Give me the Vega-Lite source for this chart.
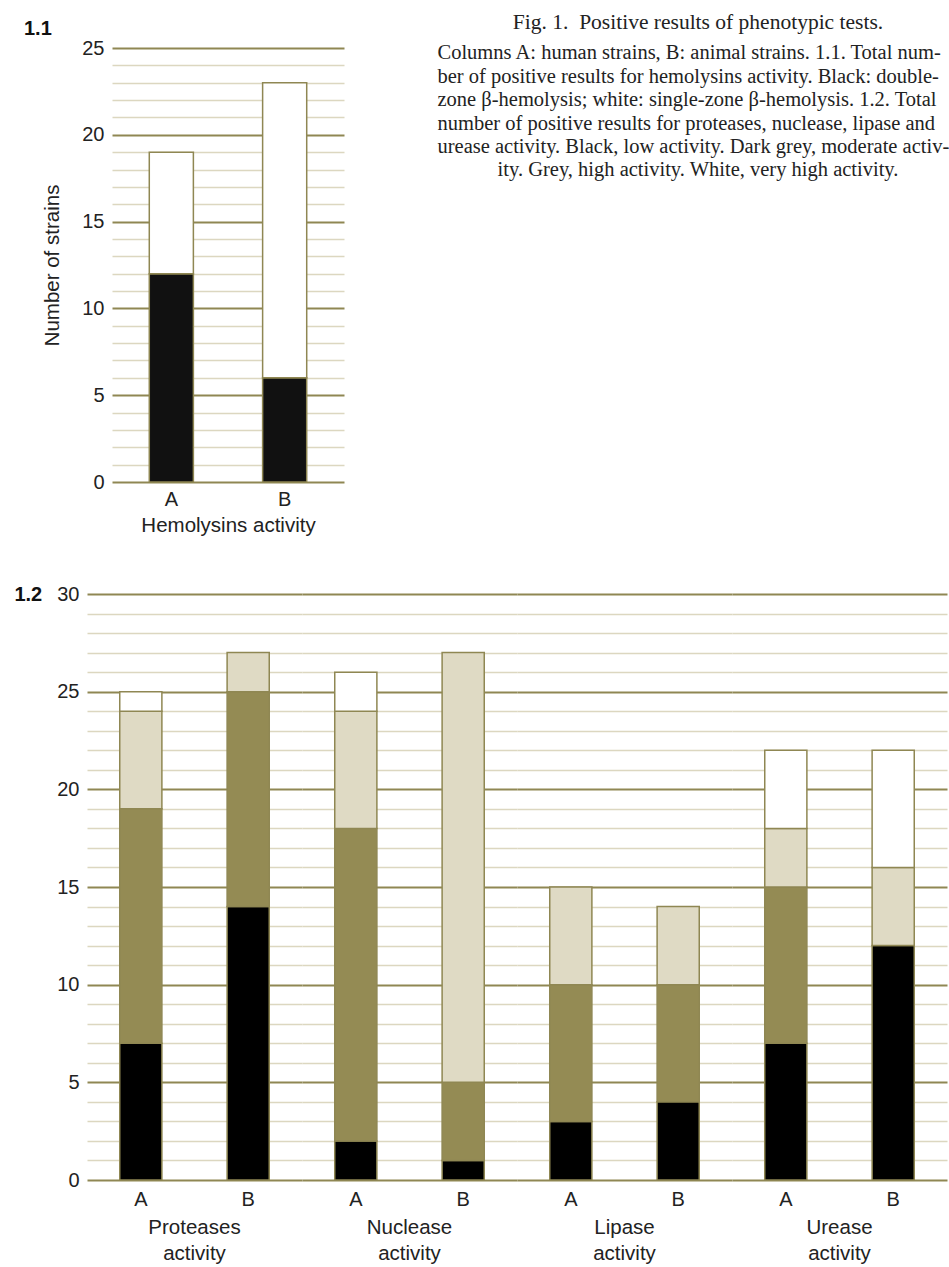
{
  "$schema": "https://vega.github.io/schema/vega-lite/v6.json",
  "background": "white",
  "padding": {"left": 13, "top": 12, "right": 0, "bottom": 0},
  "spacing": 48,
  "resolve": {"scale": {"color": "independent"}},
  "config": {
    "view": {"stroke": null},
    "font": "Liberation Sans",
    "axis": {
      "labelFont": "Liberation Sans",
      "titleFont": "Liberation Sans",
      "labelColor": "#222222",
      "titleColor": "#222222",
      "titleFontWeight": "normal",
      "ticks": false,
      "tickSize": 0,
      "domain": false,
      "labelFontSize": 20,
      "titleFontSize": 20.5
    },
    "title": {"font": "Liberation Sans", "color": "#111111"}
  },
  "vconcat": [
    {
      "spacing": 93,
      "hconcat": [
        {
          "spacing": 0,
          "hconcat": [
            {
              "width": 25,
              "height": 434,
              "title": {"text": "1.1", "anchor": "start", "frame": "group", "dx": -63, "fontSize": 20, "fontWeight": "bold", "offset": -1},
              "data": {
                "values": [
                  {"strain": "A", "zone": "Double-zone β-hemolysis", "n": 12, "order": 1},
                  {"strain": "A", "zone": "Single-zone β-hemolysis", "n": 7, "order": 2},
                  {"strain": "B", "zone": "Double-zone β-hemolysis", "n": 6, "order": 1},
                  {"strain": "B", "zone": "Single-zone β-hemolysis", "n": 17, "order": 2}
                ]
              },
              "mark": {"type": "bar", "opacity": 0},
              "encoding": {
                "y": {
                  "field": "n", "type": "quantitative", "stack": null,
                  "scale": {"domain": [0, 25], "nice": false},
                  "axis": {
                    "title": "Number of strains",
                    "offset": -25,
                    "values": [0,1,2,3,4,5,6,7,8,9,10,11,12,13,14,15,16,17,18,19,20,21,22,23,24,25],
                    "labelExpr": "datum.value % 5 === 0 ? datum.label : ''",
                    "labelOverlap": false,
                    "labelPadding": 8,
                    "titlePadding": 19,
                    "grid": false
                  }
                }
              }
            },
            {
              "width": 232,
              "height": 434,
              "data": {
                "values": [
                  {"strain": "A", "zone": "Double-zone β-hemolysis", "n": 12, "order": 1},
                  {"strain": "A", "zone": "Single-zone β-hemolysis", "n": 7, "order": 2},
                  {"strain": "B", "zone": "Double-zone β-hemolysis", "n": 6, "order": 1},
                  {"strain": "B", "zone": "Single-zone β-hemolysis", "n": 17, "order": 2}
                ]
              },
              "mark": {"type": "bar", "stroke": "#8f8753", "strokeWidth": 1.5},
              "encoding": {
                "x": {
                  "field": "strain", "type": "nominal",
                  "scale": {"paddingInner": 0.611, "paddingOuter": 0.329},
                  "axis": {"title": "Hemolysins activity", "labelAngle": 0, "labelPadding": 7, "titlePadding": 6, "grid": false}
                },
                "y": {
                  "field": "n", "type": "quantitative", "stack": "zero",
                  "scale": {"domain": [0, 25], "nice": false},
                  "axis": {
                    "title": null,
                    "labels": false,
                    "values": [0,1,2,3,4,5,6,7,8,9,10,11,12,13,14,15,16,17,18,19,20,21,22,23,24,25],
                    "grid": true,
                    "gridColor": {"condition": {"test": "datum.value % 5 === 0", "value": "#8f8753"}, "value": "#dcd7c0"},
                    "gridWidth": {"condition": {"test": "datum.value % 5 === 0", "value": 2}, "value": 1.6}
                  }
                },
                "color": {
                  "field": "zone", "type": "nominal",
                  "scale": {"domain": ["Double-zone β-hemolysis", "Single-zone β-hemolysis"], "range": ["#111111", "#ffffff"]},
                  "legend": null
                },
                "order": {"field": "order", "type": "quantitative"}
              }
            }
          ]
        },
        {
          "width": 522,
          "height": 127,
          "title": {"text": "Fig. 1.\u00a0 Positive results of phenotypic tests.", "anchor": "middle", "font": "Liberation Serif", "fontSize": 21.5, "fontWeight": "normal", "color": "#222222", "offset": 9},
          "data": {
            "values": [
              {"line": 1, "text": "Columns A: human strains, B: animal strains. 1.1. Total num-"},
              {"line": 2, "text": "ber of positive results for hemolysins activity. Black: double-"},
              {"line": 3, "text": "zone β-hemolysis; white: single-zone β-hemolysis. 1.2. Total"},
              {"line": 4, "text": "number of positive results for proteases, nuclease, lipase and"},
              {"line": 5, "text": "urease activity. Black, low activity. Dark grey, moderate activ-"},
              {"line": 6, "text": "ity. Grey, high activity. White, very high activity."}
            ]
          },
          "mark": {"type": "text", "font": "Liberation Serif", "fontSize": 20.5, "color": "#222222"},
          "encoding": {
            "y": {
              "field": "text", "type": "nominal",
              "sort": {"field": "line", "op": "min"},
              "scale": {"type": "point", "padding": 0.2},
              "axis": {
                "title": null,
                "labelAlign": "left",
                "labelPadding": 0,
                "labelLimit": 1000,
                "labelFont": "Liberation Serif",
                "labelFontSize": 20.5,
                "labelColor": "#222222",
                "labelOverlap": false,
                "grid": false,
                "labelExpr": "indexof(datum.value, 'ity. Grey') === 0 ? '' : datum.label"
              }
            },
            "text": {"condition": {"test": "datum.line === 6", "field": "text"}, "value": ""}
          }
        }
      ]
    },
    {
      "data": {
        "values": [
          {"test": "Proteases activity", "strain": "A", "level": "Low", "n": 7, "order": 1},
          {"test": "Proteases activity", "strain": "A", "level": "Moderate", "n": 12, "order": 2},
          {"test": "Proteases activity", "strain": "A", "level": "High", "n": 5, "order": 3},
          {"test": "Proteases activity", "strain": "A", "level": "Very high", "n": 1, "order": 4},
          {"test": "Proteases activity", "strain": "B", "level": "Low", "n": 14, "order": 1},
          {"test": "Proteases activity", "strain": "B", "level": "Moderate", "n": 11, "order": 2},
          {"test": "Proteases activity", "strain": "B", "level": "High", "n": 2, "order": 3},
          {"test": "Nuclease activity", "strain": "A", "level": "Low", "n": 2, "order": 1},
          {"test": "Nuclease activity", "strain": "A", "level": "Moderate", "n": 16, "order": 2},
          {"test": "Nuclease activity", "strain": "A", "level": "High", "n": 6, "order": 3},
          {"test": "Nuclease activity", "strain": "A", "level": "Very high", "n": 2, "order": 4},
          {"test": "Nuclease activity", "strain": "B", "level": "Low", "n": 1, "order": 1},
          {"test": "Nuclease activity", "strain": "B", "level": "Moderate", "n": 4, "order": 2},
          {"test": "Nuclease activity", "strain": "B", "level": "High", "n": 22, "order": 3},
          {"test": "Lipase activity", "strain": "A", "level": "Low", "n": 3, "order": 1},
          {"test": "Lipase activity", "strain": "A", "level": "Moderate", "n": 7, "order": 2},
          {"test": "Lipase activity", "strain": "A", "level": "High", "n": 5, "order": 3},
          {"test": "Lipase activity", "strain": "B", "level": "Low", "n": 4, "order": 1},
          {"test": "Lipase activity", "strain": "B", "level": "Moderate", "n": 6, "order": 2},
          {"test": "Lipase activity", "strain": "B", "level": "High", "n": 4, "order": 3},
          {"test": "Urease activity", "strain": "A", "level": "Low", "n": 7, "order": 1},
          {"test": "Urease activity", "strain": "A", "level": "Moderate", "n": 8, "order": 2},
          {"test": "Urease activity", "strain": "A", "level": "High", "n": 3, "order": 3},
          {"test": "Urease activity", "strain": "A", "level": "Very high", "n": 4, "order": 4},
          {"test": "Urease activity", "strain": "B", "level": "Low", "n": 12, "order": 1},
          {"test": "Urease activity", "strain": "B", "level": "High", "n": 4, "order": 3},
          {"test": "Urease activity", "strain": "B", "level": "Very high", "n": 6, "order": 4}
        ]
      },
      "spacing": 0,
      "facet": {
        "column": {
          "field": "test", "type": "nominal",
          "sort": ["Proteases activity", "Nuclease activity", "Lipase activity", "Urease activity"],
          "title": null,
          "header": {
            "title": null,
            "labelOrient": "bottom",
            "labelExpr": "split(datum.label, ' ')",
            "labelFont": "Liberation Sans",
            "labelFontSize": 20.5,
            "labelColor": "#222222",
            "labelPadding": 9,
            "labelLineHeight": 26,
            "labelBaseline": "top"
          }
        }
      },
      "spec": {
        "width": 215,
        "height": 586,
        "mark": {"type": "bar", "stroke": "#8f8753", "strokeWidth": 1.5},
        "encoding": {
          "x": {
            "field": "strain", "type": "nominal",
            "scale": {"paddingInner": 0.6075, "paddingOuter": 0.305},
            "axis": {"title": null, "labelAngle": 0, "labelPadding": 8, "grid": false}
          },
          "y": {
            "field": "n", "type": "quantitative", "stack": "zero",
            "scale": {"domain": [0, 30], "nice": false},
            "axis": {
              "title": "1.2",
              "titleAngle": 0,
              "titleAnchor": "end",
              "titleAlign": "right",
              "titleBaseline": "middle",
              "titleFontWeight": "bold",
              "titleFontSize": 20,
              "titleColor": "#111111",
              "titlePadding": 15,
              "values": [0,1,2,3,4,5,6,7,8,9,10,11,12,13,14,15,16,17,18,19,20,21,22,23,24,25,26,27,28,29,30],
              "labelExpr": "datum.value % 5 === 0 ? datum.label : ''",
              "labelOverlap": false,
              "labelPadding": 8,
              "grid": true,
              "gridColor": {"condition": {"test": "datum.value % 5 === 0", "value": "#8f8753"}, "value": "#dcd7c0"},
              "gridWidth": {"condition": {"test": "datum.value % 5 === 0", "value": 2}, "value": 1.6}
            }
          },
          "color": {
            "field": "level", "type": "nominal",
            "scale": {"domain": ["Low", "Moderate", "High", "Very high"], "range": ["#000000", "#948b54", "#dfdac4", "#ffffff"]},
            "legend": null
          },
          "order": {"field": "order", "type": "quantitative"}
        }
      }
    }
  ]
}
